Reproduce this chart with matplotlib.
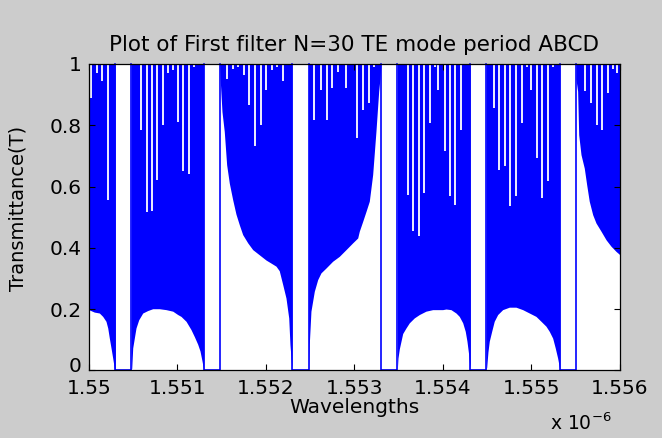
import numpy as np
import matplotlib
matplotlib.use("Agg")
import matplotlib.pyplot as plt
import matplotlib.transforms as mtransforms

# --- textos ---
TITLE = "Plot of First filter N=30 TE mode period ABCD"
XLABEL = "Wavelengths"
YLABEL = "Transmittance(T)"
X_TICKS = [1.550, 1.551, 1.552, 1.553, 1.554, 1.555, 1.556]
X_TICK_LABELS = ["1.55", "1.551", "1.552", "1.553", "1.554", "1.555", "1.556"]
Y_TICKS = [0, 0.2, 0.4, 0.6, 0.8, 1.0]
Y_TICK_LABELS = ["0", "0.2", "0.4", "0.6", "0.8", "1"]

# --- dados (comprimento de onda em um) ---
# envelope inferior das oscilações (T minima)
env_wl = [
    1.550000, 1.550063, 1.550120, 1.550158, 1.550195, 1.550215, 1.550233, 1.550252, 1.550271, 1.550289, 1.550300,
    1.550478, 1.550486, 1.550497, 1.550515, 1.550534, 1.550565, 1.550610, 1.550666, 1.550723, 1.550797, 1.550873,
    1.550949, 1.551005, 1.551042, 1.551099, 1.551155, 1.551193, 1.551231, 1.551257, 1.551280, 1.551299,
    1.551479, 1.551486, 1.551505, 1.551531, 1.551558, 1.551588, 1.551626, 1.551663, 1.551701, 1.551739, 1.551796,
    1.551852, 1.551927, 1.552002, 1.552059, 1.552115, 1.552152, 1.552191, 1.552228, 1.552259, 1.552273, 1.552296,
    1.552484, 1.552491, 1.552510, 1.552548, 1.552586, 1.552623, 1.552680, 1.552755, 1.552830, 1.552906, 1.552981,
    1.553038, 1.553056, 1.553094, 1.553132, 1.553169, 1.553207, 1.553244, 1.553275, 1.553290, 1.553301,
    1.553485, 1.553493, 1.553508, 1.553527, 1.553546, 1.553583, 1.553621, 1.553677, 1.553734, 1.553809, 1.553885,
    1.553998, 1.554035, 1.554091, 1.554148, 1.554185, 1.554224, 1.554253, 1.554272, 1.554291, 1.554309,
    1.554487, 1.554495, 1.554509, 1.554524, 1.554551, 1.554580, 1.554619, 1.554675, 1.554750, 1.554825, 1.554901,
    1.554976, 1.555051, 1.555108, 1.555164, 1.555202, 1.555240, 1.555269, 1.555296, 1.555322,
    1.555503, 1.555522, 1.555534, 1.555560, 1.555597, 1.555624, 1.555653, 1.555692, 1.555729, 1.555786, 1.555843,
    1.555899, 1.555956, 1.556000,
]
env_t = [
    0.198, 0.190, 0.187, 0.176, 0.160, 0.138, 0.105, 0.073, 0.040, 0.007, 0.000,
    0.000, 0.007, 0.073, 0.105, 0.138, 0.165, 0.187, 0.195, 0.201, 0.201, 0.198,
    0.193, 0.182, 0.176, 0.160, 0.133, 0.110, 0.085, 0.063, 0.030, 0.000,
    1.000, 0.944, 0.845, 0.780, 0.671, 0.611, 0.557, 0.510, 0.475, 0.443, 0.416,
    0.394, 0.377, 0.360, 0.350, 0.340, 0.325, 0.280, 0.236, 0.171, 0.084, 0.000,
    0.000, 0.084, 0.193, 0.258, 0.296, 0.318, 0.334, 0.356, 0.372, 0.394, 0.416,
    0.432, 0.454, 0.486, 0.519, 0.552, 0.639, 0.780, 0.911, 0.954, 1.000,
    0.000, 0.040, 0.070, 0.095, 0.120, 0.138, 0.155, 0.171, 0.182, 0.193, 0.198,
    0.198, 0.200, 0.198, 0.187, 0.176, 0.155, 0.127, 0.095, 0.052, 0.000,
    0.000, 0.010, 0.060, 0.095, 0.127, 0.160, 0.182, 0.198, 0.206, 0.206, 0.198,
    0.187, 0.176, 0.160, 0.144, 0.127, 0.105, 0.073, 0.040, 0.000,
    0.950, 0.911, 0.769, 0.704, 0.660, 0.606, 0.552, 0.508, 0.481, 0.454, 0.426,
    0.405, 0.388, 0.377,
]

# bandas proibidas (T = 0)
gap_lo = [1.550300, 1.551299, 1.552296, 1.553301, 1.554309, 1.555322]
gap_hi = [1.550478, 1.551479, 1.552484, 1.553485, 1.554487, 1.555503]

# picos que a amostragem não pegou (linhas brancas vindas do topo)
spike_wl = [
    1.550026, 1.550090, 1.550147, 1.550215,
    1.550591, 1.550655, 1.550715, 1.550775, 1.550839, 1.550896, 1.550955, 1.551005, 1.551068, 1.551129, 1.551193,
    1.551562, 1.551626, 1.551686, 1.551750, 1.551814, 1.551878, 1.551942, 1.552002, 1.552067, 1.552127, 1.552191,
    1.552548, 1.552623, 1.552688, 1.552748, 1.552812, 1.552906, 1.553027, 1.553101, 1.553162, 1.553222,
    1.553603, 1.553666, 1.553727, 1.553790, 1.553851, 1.553911, 1.553948, 1.554027, 1.554080, 1.554140, 1.554204,
    1.554580, 1.554637, 1.554701, 1.554761, 1.554825, 1.554890, 1.554950, 1.554995, 1.555063, 1.555119, 1.555184,
    1.555247,
    1.555608, 1.555673, 1.555737, 1.555797, 1.555861, 1.555921, 1.555966,
]
spike_t = [
    0.889, 0.971, 0.944, 0.557,
    0.786, 0.517, 0.520, 0.622, 0.800, 0.970, 0.980, 0.810, 0.650, 0.640, 0.990,
    0.952, 0.985, 0.990, 0.965, 0.867, 0.731, 0.800, 0.916, 0.980, 0.990, 0.944,
    0.818, 0.916, 0.818, 0.920, 0.975, 0.920, 0.758, 0.851, 0.873, 0.990,
    0.573, 0.454, 0.437, 0.579, 0.807, 0.990, 0.916, 0.715, 0.568, 0.541, 0.786,
    0.856, 0.655, 0.666, 0.535, 0.568, 0.807, 0.990, 0.916, 0.693, 0.563, 0.617,
    0.990,
    0.911, 0.873, 0.800, 0.786, 0.905, 0.985, 0.970,
]

BLUE = "#0000ff"
SPIKE = "#eeeeff"

plt.rcParams["font.family"] = ["DejaVu Sans"]

fig = plt.figure(figsize=(6.62, 4.38), dpi=100, facecolor="#cccccc")
ax = fig.add_axes([0.134, 0.1546, 0.8025, 0.6993])
ax.set_facecolor("white")
ax.set_axisbelow(False)

wl = np.array(env_wl)
t = np.array(env_t)

# preenche cada trecho entre as bandas proibidas
seg_lo = [X_TICKS[0]] + gap_hi
seg_hi = gap_lo + [X_TICKS[-1]]
for lo, hi in zip(seg_lo, seg_hi):
    m = (wl >= lo - 1e-7) & (wl <= hi + 1e-7)
    ax.fill_between(wl[m], t[m], 1, color=BLUE, lw=0, zorder=2)

ax.vlines(spike_wl, spike_t, 1, color=SPIKE, lw=1.4, zorder=3)

for a, b in zip(gap_lo, gap_hi):
    ax.plot([a, a, b, b], [1, 0, 0, 1], color=BLUE, lw=1.2, zorder=4, clip_on=False)

ax.set_xlim(X_TICKS[0], X_TICKS[-1])
ax.set_ylim(0, 1)
ax.set_xticks(X_TICKS)
ax.set_xticklabels(X_TICK_LABELS)
ax.set_yticks(Y_TICKS)
ax.set_yticklabels(Y_TICK_LABELS)
ax.tick_params(direction="in", top=True, right=True, length=4, width=0.8,
               labelsize=14.5, colors="black")
ax.tick_params(axis="x", pad=6)
ax.tick_params(axis="y", pad=5)
for s in ax.spines.values():
    s.set_linewidth(0.9)
    s.set_zorder(5)

# o "0" do eixo y sobe um pouco para não encostar no "1.55"
zero_lbl = ax.get_yticklabels()[0]
zero_lbl.set_transform(zero_lbl.get_transform() +
                       mtransforms.ScaledTranslation(0, 4 / 72, fig.dpi_scale_trans))

ax.set_title(TITLE, fontsize=15.5, pad=9)
ax.set_xlabel(XLABEL, fontsize=14.5)
ax.set_ylabel(YLABEL, fontsize=14)
ax.xaxis.set_label_coords(0.5, -0.09)
ax.yaxis.set_label_coords(-0.115, 0.53)
ax.text(0.985, -0.195, r"x 10$^{-6}$", transform=ax.transAxes, ha="right",
        va="baseline", fontsize=13.5)

fig.savefig("out.png", dpi=100, facecolor=fig.get_facecolor())
